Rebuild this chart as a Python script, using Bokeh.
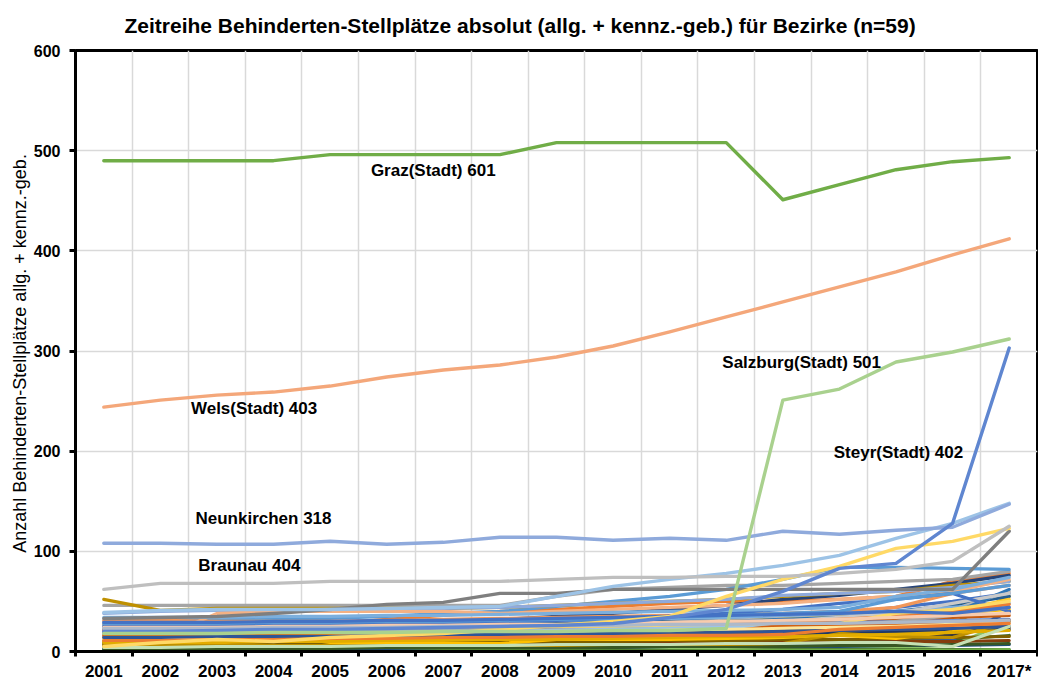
from bokeh.plotting import figure
from bokeh.models import FixedTicker, Label, Range1d
from bokeh.embed import file_html
from bokeh.resources import INLINE

years = ["2001", "2002", "2003", "2004", "2005", "2006", "2007", "2008", "2009",
         "2010", "2011", "2012", "2013", "2014", "2015", "2016", "2017*"]

# highlighted districts
graz = [490, 490, 490, 490, 496, 496, 496, 496, 508, 508, 508, 508, 451, 466, 481, 489, 493]
wels = [244, 251, 256, 259, 265, 274, 281, 286, 294, 305, 319, 334, 349, 364, 379, 396, 412]
salzburg = [18, 18, 18, 19, 19, 19, 20, 20, 20, 21, 21, 23, 251, 262, 289, 299, 312]
steyr = [20, 20, 21, 22, 22, 23, 24, 25, 26, 28, 34, 42, 60, 83, 88, 128, 303]
neunkirchen = [108, 108, 107, 107, 110, 107, 109, 114, 114, 111, 113, 111, 120, 117, 121, 124, 147]
braunau = [62, 68, 68, 68, 70, 70, 70, 70, 72, 74, 74, 75, 75, 78, 82, 90, 125]
rising_blue = [39, 41, 42, 42, 42, 43, 44, 45, 55, 65, 72, 78, 86, 96, 113, 128, 148]
rising_yellow = [5, 9, 12, 10, 14, 16, 18, 22, 26, 30, 35, 55, 72, 85, 103, 110, 123]
rising_gray = [33, 34, 35, 38, 42, 47, 49, 58, 58, 62, 62, 62, 62, 62, 62, 62, 120]

# remaining districts (dense bundle near the bottom)
other_colors = [
    "#4472C4", "#ED7D31", "#A5A5A5", "#FFC000", "#5B9BD5", "#264478", "#9E480E", "#636363",
    "#997300", "#255E91", "#43682B", "#698ED0", "#F1975A", "#B7B7B7", "#FFCD33", "#7CAFDD",
    "#8CC168", "#335AA1", "#C55A11", "#BF9000", "#2E75B6", "#548235", "#8FAADC", "#F4B183",
    "#C9C9C9", "#1F3864", "#843C0C", "#3A3A3A", "#7F6000", "#1F4E79", "#385723", "#FFC000",
    "#BF9000", "#4472C4", "#ED7D31", "#5B9BD5", "#FFD966", "#A5A5A5", "#70AD47", "#F8CBAD",
    "#9DC3E6", "#D26012", "#FFE699", "#2F5597", "#E2AC00", "#ADB9CA", "#C5E0B4", "#4472C4",
    "#ED7D31", "#7CAFDD",
]
other_values = [
    [22, 22, 23, 23, 24, 25, 26, 27, 28, 30, 32, 34, 36, 38, 44, 50, 58],
    [27, 27, 26, 27, 28, 32, 36, 40, 42, 45, 48, 50, 50, 52, 55, 70, 78],
    [46, 46, 46, 46, 46, 46, 46, 46, 55, 62, 64, 66, 66, 68, 70, 72, 80],
    [8, 10, 12, 14, 16, 17, 18, 20, 22, 24, 26, 28, 30, 33, 35, 38, 42],
    [30, 30, 32, 32, 33, 35, 38, 40, 45, 50, 55, 62, 72, 84, 84, 83, 82],
    [18, 18, 19, 21, 24, 26, 29, 32, 35, 38, 42, 46, 52, 56, 62, 68, 76],
    [12, 12, 12, 13, 13, 14, 14, 15, 16, 17, 17, 18, 18, 19, 20, 22, 24],
    [6, 6, 6, 7, 7, 7, 8, 8, 8, 9, 9, 10, 10, 11, 12, 14, 40],
    [15, 15, 16, 16, 16, 17, 17, 18, 18, 18, 19, 20, 21, 22, 24, 28, 55],
    [24, 24, 25, 25, 26, 26, 27, 27, 28, 29, 30, 31, 32, 33, 40, 46, 55],
    [4, 4, 4, 4, 5, 5, 5, 5, 6, 6, 6, 7, 7, 8, 9, 12, 16],
    [20, 21, 21, 22, 22, 23, 24, 25, 26, 26, 27, 28, 29, 30, 30, 31, 32],
    [31, 31, 30, 30, 30, 31, 32, 33, 34, 35, 36, 37, 38, 40, 44, 58, 66],
    [18, 18, 19, 20, 21, 22, 23, 24, 25, 27, 29, 31, 33, 35, 38, 42, 60],
    [10, 12, 14, 15, 17, 18, 20, 22, 24, 26, 28, 30, 32, 34, 36, 40, 52],
    [26, 26, 27, 27, 28, 28, 29, 30, 31, 32, 33, 34, 36, 38, 40, 44, 48],
    [2, 2, 2, 2, 2, 3, 3, 3, 3, 3, 3, 3, 4, 4, 4, 6, 30],
    [3, 3, 3, 4, 4, 4, 5, 5, 5, 6, 6, 7, 8, 9, 10, 12, 40],
    [14, 14, 14, 14, 15, 16, 16, 16, 17, 18, 18, 20, 30, 32, 33, 34, 36],
    [52, 41, 43, 43, 43, 43, 43, 44, 46, 48, 50, 52, 55, 58, 60, 66, 70],
    [20, 20, 20, 21, 21, 22, 22, 23, 24, 26, 28, 30, 32, 34, 36, 38, 62],
    [1, 1, 1, 1, 1, 1, 1, 1, 1, 1, 1, 1, 2, 2, 2, 2, 2],
    [38, 40, 41, 41, 42, 42, 43, 44, 46, 48, 50, 52, 56, 58, 60, 64, 70],
    [10, 14, 38, 40, 40, 40, 40, 38, 40, 42, 44, 46, 48, 52, 55, 60, 72],
    [16, 17, 17, 18, 18, 19, 20, 21, 22, 24, 26, 28, 30, 34, 38, 48, 58],
    [9, 9, 10, 10, 11, 11, 12, 12, 13, 14, 15, 16, 17, 18, 19, 20, 22],
    [5, 5, 5, 6, 6, 6, 7, 7, 7, 8, 8, 8, 9, 9, 10, 10, 11],
    [11, 11, 11, 12, 12, 12, 13, 13, 13, 14, 14, 15, 15, 16, 16, 17, 30],
    [7, 7, 8, 8, 8, 9, 9, 9, 10, 10, 11, 11, 12, 12, 13, 14, 15],
    [2, 2, 3, 3, 3, 3, 4, 4, 4, 4, 5, 5, 5, 5, 6, 6, 7],
    [3, 3, 3, 3, 3, 4, 4, 4, 4, 4, 5, 5, 5, 6, 6, 7, 8],
    [10, 10, 8, 16, 9, 8, 8, 8, 12, 12, 12, 13, 14, 16, 13, 20, 30],
    [6, 6, 6, 6, 6, 6, 6, 6, 6, 7, 7, 7, 8, 18, 15, 14, 30],
    [25, 25, 26, 26, 27, 28, 29, 30, 31, 33, 35, 38, 42, 48, 52, 58, 40],
    [21, 21, 22, 22, 22, 23, 23, 24, 25, 26, 27, 28, 30, 32, 35, 40, 47],
    [28, 28, 28, 29, 29, 30, 30, 31, 32, 33, 34, 36, 38, 40, 52, 58, 66],
    [13, 15, 17, 18, 19, 20, 21, 22, 23, 24, 25, 26, 27, 28, 38, 42, 50],
    [19, 19, 19, 20, 20, 20, 21, 21, 22, 22, 23, 23, 24, 25, 30, 36, 44],
    [0, 0, 0, 0, 0, 0, 0, 0, 0, 0, 0, 1, 1, 1, 1, 1, 2],
    [24, 24, 24, 25, 25, 26, 26, 27, 27, 28, 29, 30, 31, 32, 34, 36, 38],
    [17, 17, 18, 18, 19, 19, 20, 20, 21, 22, 23, 24, 25, 26, 27, 28, 29],
    [16, 16, 16, 16, 17, 17, 17, 18, 18, 19, 19, 20, 26, 27, 28, 29, 31],
    [12, 13, 14, 15, 15, 16, 17, 18, 19, 20, 21, 22, 23, 24, 25, 27, 28],
    [14, 14, 15, 15, 15, 16, 16, 17, 17, 18, 18, 19, 20, 21, 22, 23, 25],
    [9, 9, 9, 10, 10, 11, 11, 12, 12, 13, 14, 15, 15, 16, 17, 19, 21],
    [23, 23, 23, 24, 24, 24, 25, 25, 26, 26, 27, 27, 28, 28, 29, 30, 31],
    [4, 4, 5, 5, 5, 6, 6, 6, 7, 7, 7, 8, 8, 9, 9, 5, 25],
    [29, 29, 29, 30, 30, 31, 31, 32, 33, 34, 35, 36, 37, 38, 40, 38, 44],
    [11, 11, 12, 12, 13, 13, 14, 14, 15, 15, 16, 16, 17, 22, 24, 26, 28],
    [34, 34, 34, 35, 35, 36, 36, 37, 38, 39, 40, 41, 42, 44, 55, 62, 74],
]

main_series = [
    (rising_gray, "#7F7F7F"),
    (rising_yellow, "#FFD966"),
    (rising_blue, "#9DC3E6"),
    (braunau, "#BFBFBF"),
    (neunkirchen, "#8FAADC"),
    (steyr, "#5F86D0"),
    (salzburg, "#A9D18E"),
    (wels, "#F4A77A"),
    (graz, "#70AD47"),
]

title_text = "Zeitreihe Behinderten-Stellplätze absolut (allg. + kennz.-geb.) für Bezirke (n=59)"
labels = ["Graz(Stadt) 601", "Wels(Stadt) 403", "Salzburg(Stadt) 501",
          "Steyr(Stadt) 402", "Neunkirchen 318", "Braunau 404"]
label_pos = [(4.72, 480), (1.54, 242.5), (10.93, 288.4), (12.9, 198.6), (1.62, 132.7), (1.67, 85.8)]

FONT = "Liberation Sans"
xs = list(range(len(years)))

p = figure(width=1038, height=684, output_backend="svg", toolbar_location=None,
           x_range=Range1d(-0.5, len(years) - 0.5), y_range=Range1d(0, 600),
           min_border_left=75, min_border_right=1, min_border_top=50, min_border_bottom=33)
p.background_fill_color = "white"
p.border_fill_color = "white"
p.outline_line_color = "black"
p.outline_line_width = 3

p.title.text = title_text
p.title.text_font = FONT
p.title.text_font_size = "21px"
p.title.text_font_style = "bold"
p.title.text_color = "black"
p.title.align = "left"
p.title.offset = 49
p.title.vertical_align = "top"
p.title.standoff = 24

boundaries = [i - 0.5 for i in range(len(years) + 1)]

xa = p.xaxis[0]
xa.ticker = FixedTicker(ticks=xs, minor_ticks=boundaries)
xa.major_label_overrides = {i: y for i, y in enumerate(years)}
xa.major_tick_out = 0
xa.major_tick_in = 0
xa.minor_tick_out = 5
xa.minor_tick_in = 0
xa.minor_tick_line_width = 3
xa.minor_tick_line_color = "black"
xa.axis_line_width = 3
xa.axis_line_color = "black"
xa.major_label_text_font = FONT
xa.major_label_text_font_style = "bold"
xa.major_label_text_font_size = "17px"
xa.major_label_text_color = "black"
xa.major_label_standoff = 5

ya = p.yaxis[0]
ya.ticker = FixedTicker(ticks=[0, 100, 200, 300, 400, 500, 600], minor_ticks=[])
ya.major_tick_out = 6
ya.major_tick_in = 0
ya.major_tick_line_width = 3
ya.axis_line_width = 3
ya.axis_line_color = "black"
ya.major_label_text_font = FONT
ya.major_label_text_font_style = "bold"
ya.major_label_text_font_size = "16px"
ya.major_label_text_color = "black"
ya.major_label_standoff = 9
ya.axis_label = "Anzahl  Behinderten-Stellplätze allg. + kennz.-geb."
ya.axis_label_text_font = FONT
ya.axis_label_text_font_style = "normal"
ya.axis_label_text_font_size = "18px"
ya.axis_label_text_color = "black"
ya.axis_label_standoff = 1

p.xgrid[0].ticker = FixedTicker(ticks=boundaries)
p.xgrid.grid_line_color = "#D9D9D9"
p.xgrid.grid_line_width = 1.5
p.ygrid.grid_line_color = "#D9D9D9"
p.ygrid.grid_line_width = 1.5

for col, vals in zip(other_colors, other_values):
    p.line(xs, vals, line_color=col, line_width=3.2, line_join="round", line_cap="round")

for vals, col in main_series:
    p.line(xs, vals, line_color=col, line_width=3.4, line_join="round", line_cap="round")

for txt, (lx, ly) in zip(labels, label_pos):
    p.add_layout(Label(x=lx, y=ly, text=txt, text_font=FONT, text_font_style="bold",
                       text_font_size="17px", text_color="black",
                       text_align="left", text_baseline="middle"))

open("out.html", "w").write(file_html(p, INLINE))
